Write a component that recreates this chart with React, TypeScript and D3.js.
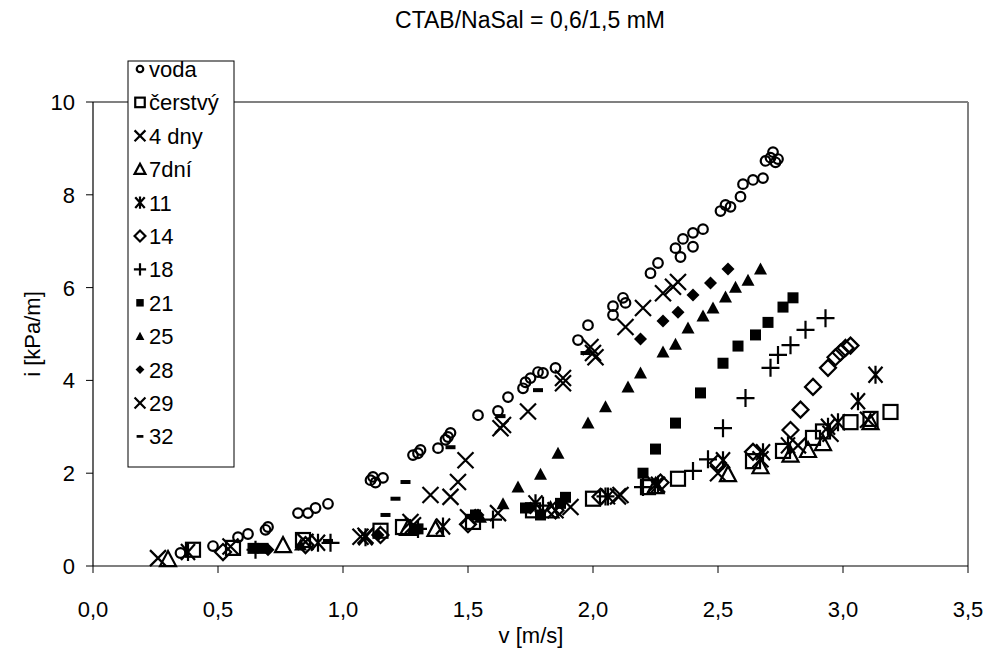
import React from "react";
import * as d3 from "d3";

type P = [number, number];

const xTicks = [0, 0.5, 1.0, 1.5, 2.0, 2.5, 3.0, 3.5];
const yTicks = [0, 2, 4, 6, 8, 10];
const xTickLabels = ["0,0", "0,5", "1,0", "1,5", "2,0", "2,5", "3,0", "3,5"];
const yTickLabels = ["0", "2", "4", "6", "8", "10"];

const voda: P[] = [[0.35,0.28],[0.48,0.43],[0.58,0.62],[0.62,0.69],[0.69,0.78],[0.70,0.84],[0.82,1.14],[0.86,1.14],[0.89,1.25],[0.94,1.34],[1.11,1.85],[1.12,1.92],[1.13,1.8],[1.16,1.9],[1.28,2.39],[1.30,2.43],[1.31,2.5],[1.38,2.54],[1.41,2.72],[1.42,2.78],[1.43,2.87],[1.54,3.25],[1.62,3.34],[1.66,3.64],[1.72,3.83],[1.73,3.96],[1.75,4.05],[1.78,4.18],[1.80,4.16],[1.85,4.27],[1.94,4.87],[1.98,5.19],[2.08,5.41],[2.08,5.6],[2.12,5.78],[2.13,5.67],[2.23,6.31],[2.26,6.53],[2.33,6.85],[2.36,7.05],[2.35,6.66],[2.40,6.88],[2.40,7.18],[2.44,7.26],[2.51,7.65],[2.53,7.78],[2.55,7.74],[2.59,7.96],[2.60,8.23],[2.64,8.32],[2.68,8.36],[2.69,8.73],[2.71,8.8],[2.72,8.92],[2.73,8.7],[2.74,8.77]];
const cerstvy: P[] = [[0.40,0.35],[0.56,0.39],[0.84,0.56],[1.15,0.76],[1.24,0.84],[1.52,0.95],[1.76,1.2],[2.0,1.45],[2.22,1.7],[2.34,1.88],[2.64,2.26],[2.76,2.48],[2.88,2.76],[2.92,2.9],[3.03,3.1],[3.11,3.17],[3.19,3.32]];
const dny4: P[] = [[0.26,0.17],[0.55,0.42],[0.85,0.52],[1.09,0.65],[1.27,0.95],[1.5,1.05],[1.85,1.2],[2.1,1.5],[2.25,1.75],[2.5,2.0],[2.67,2.3],[2.82,2.6],[2.95,2.85],[3.1,3.15]];
const dni7: P[] = [[0.3,0.15],[0.76,0.45],[1.26,0.82],[1.37,0.8],[1.83,1.2],[2.25,1.72],[2.54,1.98],[2.67,2.15],[2.79,2.4],[2.86,2.5],[2.92,2.65],[3.11,3.1]];
const d11: P[] = [[0.38,0.3],[0.9,0.5],[1.09,0.62],[1.4,0.85],[1.77,1.35],[2.06,1.5],[2.26,1.75],[2.52,2.28],[2.68,2.45],[2.78,2.6],[2.94,3.0],[2.98,3.1],[3.06,3.55],[3.13,4.12]];
const d14: P[] = [[0.52,0.3],[0.85,0.45],[1.15,0.67],[1.5,0.9],[1.85,1.2],[2.03,1.49],[2.27,1.8],[2.5,2.22],[2.64,2.46],[2.79,2.93],[2.83,3.37],[2.88,3.86],[2.94,4.27],[2.97,4.5],[2.99,4.6],[3.01,4.7],[3.03,4.75]];
const d18: P[] = [[0.65,0.35],[0.95,0.5],[1.3,0.8],[1.6,1.0],[1.8,1.3],[2.05,1.5],[2.2,1.7],[2.4,2.05],[2.46,2.3],[2.52,2.97],[2.61,3.62],[2.71,4.27],[2.74,4.55],[2.79,4.76],[2.85,5.09],[2.93,5.34]];
const d21: P[] = [[0.64,0.38],[0.68,0.38],[1.3,0.8],[1.53,1.1],[1.73,1.25],[1.79,1.1],[1.87,1.35],[1.89,1.48],[2.2,2.0],[2.25,2.52],[2.33,3.08],[2.43,3.73],[2.52,4.37],[2.58,4.74],[2.65,4.98],[2.7,5.25],[2.76,5.58],[2.8,5.78]];
const d25: P[] = [[0.83,0.45],[1.28,0.8],[1.55,1.05],[1.64,1.34],[1.7,1.7],[1.79,1.98],[1.86,2.43],[1.98,3.08],[2.05,3.43],[2.14,3.86],[2.19,4.16],[2.28,4.61],[2.33,4.78],[2.38,5.13],[2.44,5.39],[2.48,5.56],[2.53,5.8],[2.57,6.01],[2.62,6.16],[2.67,6.4]];
const d28: P[] = [[0.7,0.35],[1.14,0.67],[1.54,1.1],[1.75,1.25],[2.19,4.89],[2.28,5.28],[2.34,5.47],[2.4,5.84],[2.47,6.1],[2.54,6.4]];
const d29: P[] = [[1.07,0.63],[1.28,0.88],[1.35,1.53],[1.43,1.49],[1.46,1.81],[1.49,2.28],[1.62,1.14],[1.63,2.97],[1.64,3.04],[1.74,3.33],[1.88,3.94],[1.88,4.05],[1.91,1.27],[1.99,4.72],[2.0,4.59],[2.01,4.5],[2.11,1.53],[2.13,5.15],[2.2,5.56],[2.28,5.88],[2.32,6.02],[2.34,6.12]];
const d32: P[] = [[0.94,0.54],[1.17,1.1],[1.21,1.45],[1.25,1.81],[1.43,2.56],[1.63,3.23],[1.78,3.79],[1.97,4.59]];

const seriesNames = ["voda", "čerstvý", "4 dny", "7dní", "11", "14", "18", "21", "25", "28", "29", "32"];
const seriesMarkers = ["circle", "square", "x", "triangle", "asterisk", "diamond", "plus", "fsquare", "ftriangle", "fdiamond", "x", "dash"];
const seriesData = [voda, cerstvy, dny4, dni7, d11, d14, d18, d21, d25, d28, d29, d32];

const W = 995, H = 651;
const x = d3.scaleLinear().domain([0, 3.5]).range([93, 968]);
const y = d3.scaleLinear().domain([0, 10]).range([566, 102]);

function Marker({ type, cx, cy, s }: { type: string; cx: number; cy: number; s: number }) {
  const k = s;
  const st = { stroke: "#000", strokeWidth: 2.2, fill: "none" } as const;
  switch (type) {
    case "circle":
      return <circle cx={cx} cy={cy} r={4.8 * k} {...st} />;
    case "square":
      return <rect x={cx - 7 * k} y={cy - 7 * k} width={14 * k} height={14 * k} {...st} />;
    case "x":
      return <path d={`M${cx - 8 * k},${cy - 8 * k}L${cx + 8 * k},${cy + 8 * k}M${cx - 8 * k},${cy + 8 * k}L${cx + 8 * k},${cy - 8 * k}`} {...st} />;
    case "triangle":
      return <path d={`M${cx},${cy - 8 * k}L${cx + 8 * k},${cy + 7 * k}L${cx - 8 * k},${cy + 7 * k}Z`} {...st} />;
    case "asterisk":
      return <path d={`M${cx - 7 * k},${cy - 8 * k}L${cx + 7 * k},${cy + 8 * k}M${cx - 7 * k},${cy + 8 * k}L${cx + 7 * k},${cy - 8 * k}M${cx},${cy - 9 * k}L${cx},${cy + 9 * k}`} {...st} />;
    case "diamond":
      return <path d={`M${cx},${cy - 8 * k}L${cx + 8 * k},${cy}L${cx},${cy + 8 * k}L${cx - 8 * k},${cy}Z`} {...st} />;
    case "plus":
      return <path d={`M${cx - 9 * k},${cy}L${cx + 9 * k},${cy}M${cx},${cy - 9 * k}L${cx},${cy + 9 * k}`} {...st} />;
    case "fsquare":
      return <rect x={cx - 5.5 * k} y={cy - 5.5 * k} width={11 * k} height={11 * k} fill="#000" />;
    case "ftriangle":
      return <path d={`M${cx},${cy - 6.5 * k}L${cx + 6.5 * k},${cy + 5.5 * k}L${cx - 6.5 * k},${cy + 5.5 * k}Z`} fill="#000" />;
    case "fdiamond":
      return <path d={`M${cx},${cy - 6.5 * k}L${cx + 6.5 * k},${cy}L${cx},${cy + 6.5 * k}L${cx - 6.5 * k},${cy}Z`} fill="#000" />;
    case "dash":
      return <rect x={cx - 5 * k} y={cy - 2 * k} width={10 * k} height={4 * k} fill="#000" />;
  }
  return null;
}

export default function App() {
  const font = "'Liberation Sans', Arial, sans-serif";
  const legendX = 128, legendY = 61, legendW = 106, legendH = 406;
  const rowH = 33.4;
  const fs = 22;
  return (
    <svg width={W} height={H} style={{ position: "absolute", left: 0, top: 0 }} fontFamily={font}>
      <rect x={0} y={0} width={W} height={H} fill="#fff" />
      <text x={530} y={28} textAnchor="middle" fontSize={23}>CTAB/NaSal = 0,6/1,5 mM</text>
      {/* plot frame */}
      <line x1={x(0)} y1={y(10)} x2={x(3.5)} y2={y(10)} stroke="#808080" strokeWidth={2} />
      <line x1={x(3.5)} y1={y(10)} x2={x(3.5)} y2={y(0)} stroke="#808080" strokeWidth={2} />
      <line x1={x(0)} y1={y(0)} x2={x(0)} y2={y(10)} stroke="#000" strokeWidth={1.2} />
      <line x1={x(0)} y1={y(0)} x2={x(3.5)} y2={y(0)} stroke="#000" strokeWidth={1.2} />
      {yTicks.map((t, i) => (
        <g key={"y" + i}>
          <line x1={x(0) - 7} x2={x(0)} y1={y(t)} y2={y(t)} stroke="#000" strokeWidth={1} />
          <text x={75} y={y(t) + 8} textAnchor="end" fontSize={fs}>{yTickLabels[i]}</text>
        </g>
      ))}
      {xTicks.map((t, i) => (
        <g key={"x" + i}>
          <line x1={x(t)} x2={x(t)} y1={y(0)} y2={y(0) + 7} stroke="#000" strokeWidth={1} />
          <text x={x(t)} y={617} textAnchor="middle" fontSize={fs}>{xTickLabels[i]}</text>
        </g>
      ))}
      <text x={531} y={643} textAnchor="middle" fontSize={fs}>v [m/s]</text>
      <text transform={`translate(40,${y(5)}) rotate(-90)`} textAnchor="middle" fontSize={fs}>i [kPa/m]</text>
      {/* data */}
      <g>
        {seriesData.map((data, si) =>
          data.map((p, j) => (
            <Marker key={si + "-" + j} type={seriesMarkers[si]} cx={x(p[0])} cy={y(p[1])} s={1} />
          ))
        )}
      </g>
      {/* legend */}
      <rect x={legendX} y={legendY} width={legendW} height={legendH} fill="#fff" stroke="#000" strokeWidth={1} />
      {seriesNames.map((name, i) => {
        const cy = 69 + i * rowH;
        return (
          <g key={"l" + i}>
            <Marker type={seriesMarkers[i]} cx={140} cy={cy} s={0.68} />
            <text x={149} y={cy + 8} fontSize={fs}>{name}</text>
          </g>
        );
      })}
    </svg>
  );
}
